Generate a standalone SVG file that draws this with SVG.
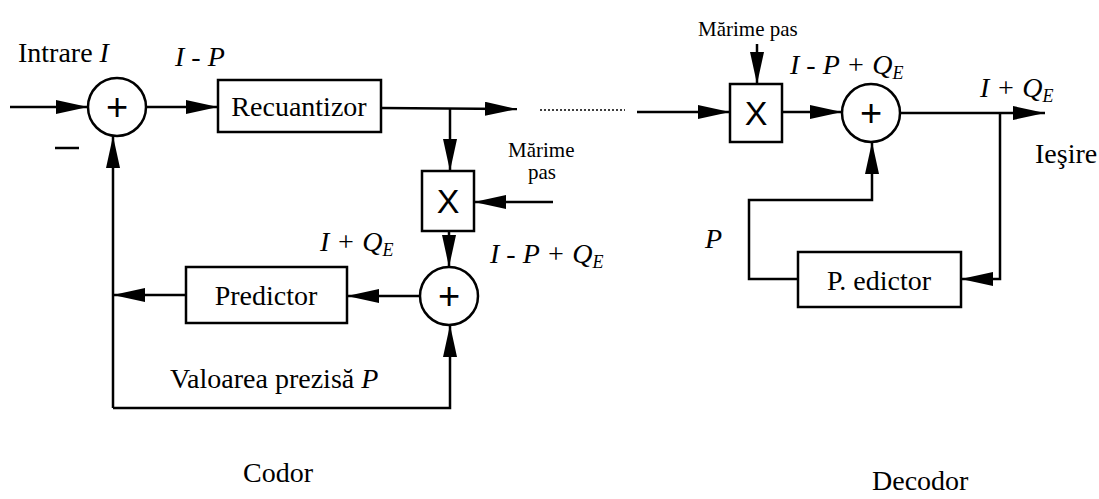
<svg xmlns="http://www.w3.org/2000/svg" width="1099" height="499" viewBox="0 0 1099 499">
  <defs>
    <marker id="arrow" markerUnits="userSpaceOnUse" markerWidth="32" markerHeight="14" refX="32" refY="7" orient="auto">
      <path d="M0,0 L32,7 L0,14 z" fill="#000"/>
    </marker>
  </defs>
  <style>
    .ln { fill: none; stroke: #000; stroke-width: 2.5; }
    .arr { marker-end: url(#arrow); }
    .box { fill: #fff; stroke: #000; stroke-width: 2.5; }
    .t { font-family: "Liberation Serif", "Times New Roman", serif; font-size: 28px; fill: #000; }
    .i { font-style: italic; }
    .sm { font-family: "Liberation Serif", "Times New Roman", serif; font-size: 21px; fill: #000; }
    .op { font-family: "Liberation Sans", Arial, sans-serif; font-size: 34px; fill: #000; text-anchor: middle; }
    .plus { font-family: "Liberation Sans", Arial, sans-serif; font-size: 38px; fill: #000; text-anchor: middle; }
    .sub { font-size: 18px; }
  </style>
  <rect width="1099" height="499" fill="#fff"/>

  <!-- connectors -->
  <g id="connectors">
    <!-- encoder -->
    <line class="ln arr" x1="10" y1="107" x2="88" y2="107"/>
    <line class="ln arr" x1="146" y1="107" x2="218" y2="107"/>
    <line class="ln arr" x1="381" y1="108" x2="517" y2="109"/>
    <line class="ln arr" x1="450" y1="108" x2="450" y2="171"/>
    <line class="ln arr" x1="553" y1="202" x2="474" y2="202"/>
    <line class="ln arr" x1="449" y1="231" x2="449" y2="267"/>
    <line class="ln arr" x1="420" y1="296" x2="347" y2="296"/>
    <line class="ln arr" x1="186" y1="295" x2="113" y2="295"/>
    <line class="ln arr" x1="113" y1="408" x2="113" y2="136"/>
    <path class="ln arr" d="M113,408 H450 V325"/>
    <!-- link between encoder and decoder -->
    <line x1="540" y1="110" x2="625" y2="110" stroke="#000" stroke-width="1.5" stroke-dasharray="2,2"/>
    <!-- decoder -->
    <line class="ln arr" x1="637" y1="112" x2="730" y2="112"/>
    <line class="ln arr" x1="757" y1="44" x2="757" y2="84"/>
    <line class="ln arr" x1="782" y1="112" x2="842" y2="112"/>
    <line class="ln arr" x1="900" y1="113" x2="1045" y2="113"/>
    <path class="ln arr" d="M1000,113 V279 H961"/>
    <path class="ln arr" d="M798,279 H749 V200 H872 V142"/>
  </g>

  <!-- encoder nodes -->
  <g id="sum-input">
    <circle class="box" cx="117" cy="107" r="29"/>
    <text class="plus" x="117" y="120">+</text>
  </g>
  <g id="requantizer">
    <rect class="box" x="218" y="80" width="163" height="52"/>
    <text class="t" x="299" y="116" text-anchor="middle">Recuantizor</text>
  </g>
  <g id="multiplier-encoder">
    <rect class="box" x="422" y="171" width="52" height="60"/>
    <text class="op" x="448" y="213">X</text>
  </g>
  <g id="sum-reconstruct">
    <circle class="box" cx="449" cy="296" r="29"/>
    <text class="plus" x="449" y="309">+</text>
  </g>
  <g id="predictor-encoder">
    <rect class="box" x="186" y="267" width="161" height="56"/>
    <text class="t" x="266" y="305" text-anchor="middle">Predictor</text>
  </g>

  <!-- decoder nodes -->
  <g id="multiplier-decoder">
    <rect class="box" x="730" y="84" width="52" height="58"/>
    <text class="op" x="756" y="125">X</text>
  </g>
  <g id="sum-decoder">
    <circle class="box" cx="871" cy="113" r="29"/>
    <text class="plus" x="871" y="126">+</text>
  </g>
  <g id="predictor-decoder">
    <rect class="box" x="798" y="252" width="163" height="55"/>
    <text class="t" x="879" y="290" text-anchor="middle">P. edictor</text>
  </g>

  <!-- labels -->
  <g id="labels">
    <text class="t" x="18" y="62">Intrare <tspan class="i">I</tspan></text>
    <text class="t i" x="175" y="66">I - P</text>
    <line x1="55" y1="148" x2="79" y2="148" stroke="#000" stroke-width="2.5"/>
    <text class="sm" x="508" y="157">Mărime</text>
    <text class="sm" x="528" y="179">pas</text>
    <text class="t i" x="320" y="251">I + Q<tspan class="sub" dy="5">E</tspan></text>
    <text class="t i" x="490" y="263">I - P + Q<tspan class="sub" dy="5">E</tspan></text>
    <text class="t" x="170" y="388">Valoarea prezisă <tspan class="i">P</tspan></text>
    <text class="sm" x="698" y="36">Mărime pas</text>
    <text class="t i" x="790" y="74">I - P + Q<tspan class="sub" dy="5">E</tspan></text>
    <text class="t i" x="980" y="97">I + Q<tspan class="sub" dy="5">E</tspan></text>
    <text class="t" x="1035" y="163">Ieşire</text>
    <text class="t i" x="705" y="248">P</text>
    <text class="t" x="243" y="482">Codor</text>
    <text class="t" x="872" y="490">Decodor</text>
  </g>
</svg>
